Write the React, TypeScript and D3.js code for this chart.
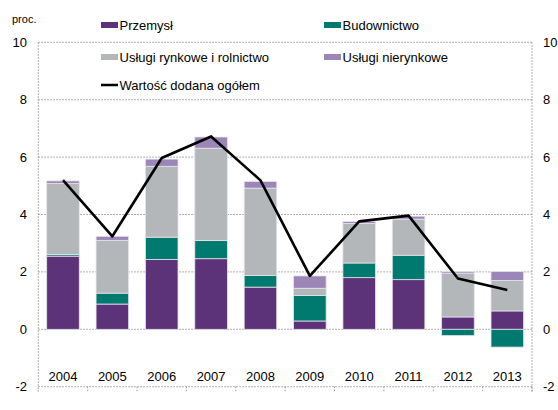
import React from "react";
import * as d3 from "d3";

const years = ["2004", "2005", "2006", "2007", "2008", "2009", "2010", "2011", "2012", "2013"];
const przemysl = [2.55, 0.88, 2.43, 2.46, 1.47, 0.29, 1.8, 1.73, 0.43, 0.64];
const budownictwo = [0.06, 0.38, 0.78, 0.63, 0.41, 0.89, 0.51, 0.85, -0.22, -0.62];
const uslugiRynkowe = [2.47, 1.84, 2.47, 3.22, 3.04, 0.25, 1.38, 1.26, 1.53, 1.06];
const uslugiNierynkowe = [0.09, 0.14, 0.25, 0.39, 0.23, 0.43, 0.06, 0.1, 0.05, 0.31];
const wartoscDodana = [5.2, 3.24, 5.97, 6.72, 5.19, 1.86, 3.76, 3.96, 1.77, 1.37];
const yTicks = [-2, 0, 2, 4, 6, 8, 10];

const series = [
  { key: "przemysl", name: "Przemysł", color: "#5c3278", values: przemysl },
  { key: "budownictwo", name: "Budownictwo", color: "#007a6e", values: budownictwo },
  { key: "rynkowe", name: "Usługi rynkowe i rolnictwo", color: "#b3b7ba", values: uslugiRynkowe },
  { key: "nierynkowe", name: "Usługi nierynkowe", color: "#9c86b8", values: uslugiNierynkowe },
];

export default function App() {
  const width = 558;
  const height = 410;
  const left = 38.3, right = 532, top = 42.3, bottom = 386.7;
  const font = "Arial, 'Liberation Sans', sans-serif";

  const x = d3.scaleBand().domain(years).range([left, right]).paddingInner(0.34).paddingOuter(0.17);
  const xOuter = d3.scaleBand().domain(years).range([left, right]);
  const y = d3.scaleLinear().domain([-2, 10]).range([bottom, top]);

  const table = years.map((yr, i) => {
    const row: any = { year: yr };
    series.forEach((s) => (row[s.key] = s.values[i]));
    return row;
  });
  const stacked = d3.stack().keys(series.map((s) => s.key)).offset(d3.stackOffsetDiverging)(table);

  const line = d3
    .line<number>()
    .x((_, i) => (x(years[i]) as number) + x.bandwidth() / 2)
    .y((d) => y(d));

  return (
    <svg width={width} height={height} style={{ position: "absolute", left: 0, top: 0 }}>
      <rect width={width} height={height} fill="#fff" />
      {/* grid */}
      {yTicks.map((t) => (
        <line key={t} x1={left} x2={right} y1={y(t)} y2={y(t)} stroke="#999" strokeDasharray="1.5,1.5" strokeWidth={1} />
      ))}
      <line x1={left} x2={left} y1={top} y2={bottom + 5} stroke="#999" strokeDasharray="1.5,1.5" />
      <line x1={right} x2={right} y1={top} y2={bottom + 5} stroke="#999" strokeDasharray="1.5,1.5" />
      {years.map((yr) => (
        <line key={yr} x1={(xOuter(yr) as number) + xOuter.bandwidth()} x2={(xOuter(yr) as number) + xOuter.bandwidth()} y1={bottom} y2={bottom + 5} stroke="#999" strokeDasharray="1.5,1.5" />
      ))}
      {/* bars */}
      {stacked.map((layer, li) => (
        <g key={layer.key} fill={series[li].color}>
          {layer.map((d, i) => {
            const y0 = y(d[0]);
            const y1 = y(d[1]);
            const h = Math.abs(y0 - y1);
            if (h < 0.01) return null;
            return (
              <rect
                key={i}
                x={x(years[i])}
                y={Math.min(y0, y1)}
                width={x.bandwidth()}
                height={h}
                stroke="#e6e3ec"
                strokeWidth={0.8}
              />
            );
          })}
        </g>
      ))}
      {/* line */}
      <path d={line(wartoscDodana) as string} fill="none" stroke="#000" strokeWidth={2.6} strokeLinejoin="round" />
      {/* y labels */}
      {yTicks.map((t) => (
        <g key={t} fontFamily={font} fontSize={13} fill="#000">
          <text x={27} y={y(t)} dy="0.35em" textAnchor="end">{t}</text>
          <text x={543} y={y(t)} dy="0.35em" textAnchor="start">{t}</text>
        </g>
      ))}
      {/* x labels */}
      {years.map((yr) => (
        <text key={yr} x={(x(yr) as number) + x.bandwidth() / 2} y={381} textAnchor="middle" fontFamily={font} fontSize={13}>
          {yr}
        </text>
      ))}
      <text x={12} y={23} fontFamily={font} fontSize={11}>proc.</text>
      {/* legend */}
      {series.map((s, i) => {
        const lx = i % 2 === 0 ? 101 : 324;
        const ly = i < 2 ? 25 : 57;
        return (
          <g key={s.key} fontFamily={font} fontSize={13}>
            <rect x={lx} y={ly - 3} width={17} height={6} fill={s.color} />
            <text x={lx + 18.5} y={ly} dy="0.35em">{s.name}</text>
          </g>
        );
      })}
      <g fontFamily={font} fontSize={13}>
        <line x1={101} x2={118} y1={85} y2={85} stroke="#000" strokeWidth={2.5} />
        <text x={119.5} y={85} dy="0.35em">Wartość dodana ogółem</text>
      </g>
    </svg>
  );
}
